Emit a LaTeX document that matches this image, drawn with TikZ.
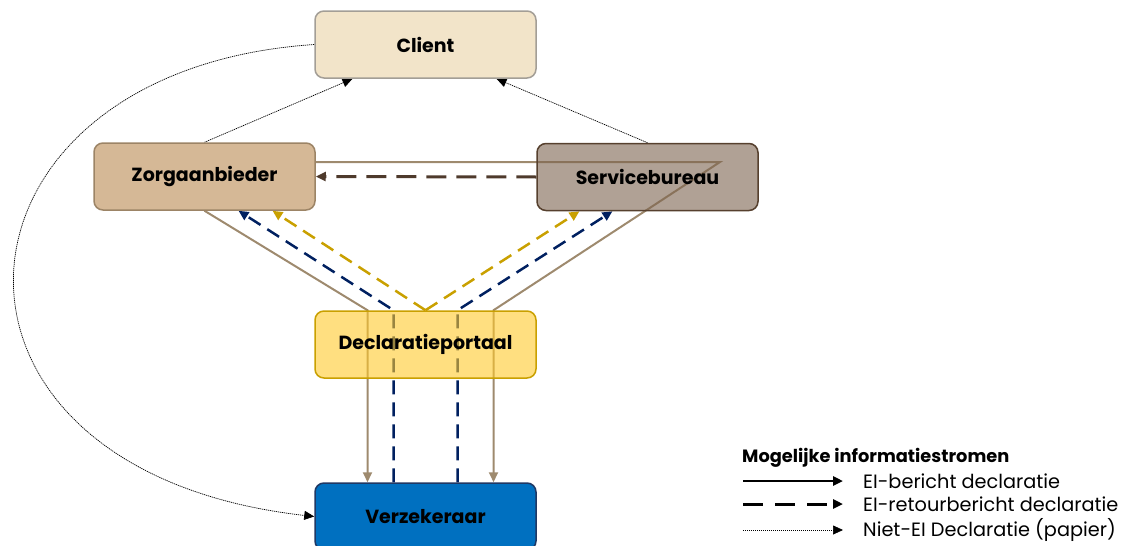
\documentclass[tikz,border=0pt]{standalone}
\usepackage{fontspec}
\setmainfont{Poppins}
\usetikzlibrary{arrows.meta, positioning}
\pgfdeclarelayer{background}
\pgfsetlayers{background,main}
\definecolor{clientfill}{HTML}{F2E4C9}
\definecolor{clientrand}{HTML}{A39E96}
\definecolor{zorgfill}{HTML}{D5B896}
\definecolor{zorgrand}{HTML}{9C8466}
\definecolor{servfill}{HTML}{7B624E}
\definecolor{servrand}{HTML}{56402E}
\definecolor{portfill}{HTML}{FFC92B}
\definecolor{portrand}{HTML}{C9A000}
\definecolor{verzfill}{HTML}{0070C0}
\definecolor{verzrand}{HTML}{1F3864}
\definecolor{taupe}{HTML}{9E8A6E}
\definecolor{navy}{HTML}{002060}
\definecolor{goud}{HTML}{C9A000}
\definecolor{donkerbruin}{HTML}{4E3A2C}

\begin{document}
\begin{tikzpicture}[x=1pt, y=-1pt, ->, >={Triangle[length=10pt,width=9pt]},
    partij/.style={rectangle, rounded corners=9pt, minimum width=221pt, minimum height=67pt,
        inner sep=0pt, line width=1.5pt, font=\fontsize{19}{23}\selectfont\bfseries},
    eibericht/.style={taupe, line width=2pt},
    retour/.style={#1, line width=2.5pt, dash pattern=on 14pt off 8pt},
    retourbruin/.style={donkerbruin, line width=3pt, dash pattern=on 20pt off 10pt},
    papier/.style={black, line width=0.7pt, dash pattern=on 1.2pt off 0.8pt},
    legendakop/.style={font=\fontsize{17.8}{21}\selectfont\bfseries, inner sep=0pt},
    legendatekst/.style={font=\fontsize{19.3}{22}\selectfont, inner sep=0pt}]
    \useasboundingbox (0,0) rectangle (1127,546);

    \node[partij, fill=clientfill, draw=clientrand] (client) at (425.5,44.5) {Client};
    \node[partij, fill=zorgfill, draw=zorgrand] (zorg) at (204.5,176.5) {Zorgaanbieder};
    \node[partij, fill=servfill, fill opacity=0.6, text opacity=1, draw=servrand] (serv) at (647.5,177) {Servicebureau};
    \node[partij, fill=portfill, fill opacity=0.6, text opacity=1, draw=portrand] (portal) at (425.5,344.5) {Declaratieportaal};
    \node[partij, fill=verzfill, draw=verzrand] (verz) at (425.5,516.5) {Verzekeraar};

    \coordinate (zv1) at ([xshift=-58pt]portal.north);
    \coordinate (zv2) at ([xshift=68pt]portal.north);
    \coordinate (vz1) at ([xshift=-32pt]portal.north);
    \coordinate (vz2) at ([xshift=32pt]portal.north);
    \coordinate (hoek) at (720,162);

    \begin{pgfonlayer}{background}
    \draw[eibericht] (zorg.south) -- (zv1) -- (zv1 |- verz.north);
    \draw[eibericht] (zorg.east |- hoek) -- (hoek) -- (zv2) -- (zv2 |- verz.north);
    \draw[retour=navy] (vz1 |- verz.north) -- (vz1) -- ([xshift=34pt]zorg.south);
    \draw[retour=navy] (vz2 |- verz.north) -- (vz2) -- ([xshift=-35pt]serv.south);
    \draw[retour=goud] (portal.north) -- ([xshift=68pt]zorg.south);
    \draw[retour=goud] (portal.north) -- ([xshift=-68pt]serv.south);
    \draw[retourbruin] (serv.west) -- (zorg.east);
    \draw[papier] (zorg.north) -- ([xshift=-73pt]client.south);
    \draw[papier] (serv.north) -- ([xshift=71pt]client.south);
    \draw[papier] (client.west) .. controls (-70,70) and (-100,470) .. (verz.west);
    \end{pgfonlayer}

    \node[legendakop, anchor=west] (legenda) at (742,458) {Mogelijke informatiestromen};
    \coordinate (l1a) at (743,481); \coordinate (l1b) at (843,481);
    \coordinate (l2a) at (743,504); \coordinate (l2b) at (843,504);
    \coordinate (l3a) at (743,530); \coordinate (l3b) at (843,530);
    \draw[black, line width=2.5pt] (l1a) -- (l1b);
    \draw[black, line width=3pt, dash pattern=on 20pt off 12pt] (l2a) -- (l2b);
    \draw[papier] (l3a) -- (l3b);
    \node[legendatekst, right=20pt of l1b] (t1) {EI-bericht declaratie};
    \node[legendatekst, right=20pt of l2b] (t2) {EI-retourbericht declaratie};
    \node[legendatekst, right=20pt of l3b] (t3) {Niet-EI Declaratie (papier)};
\end{tikzpicture}
\end{document}
